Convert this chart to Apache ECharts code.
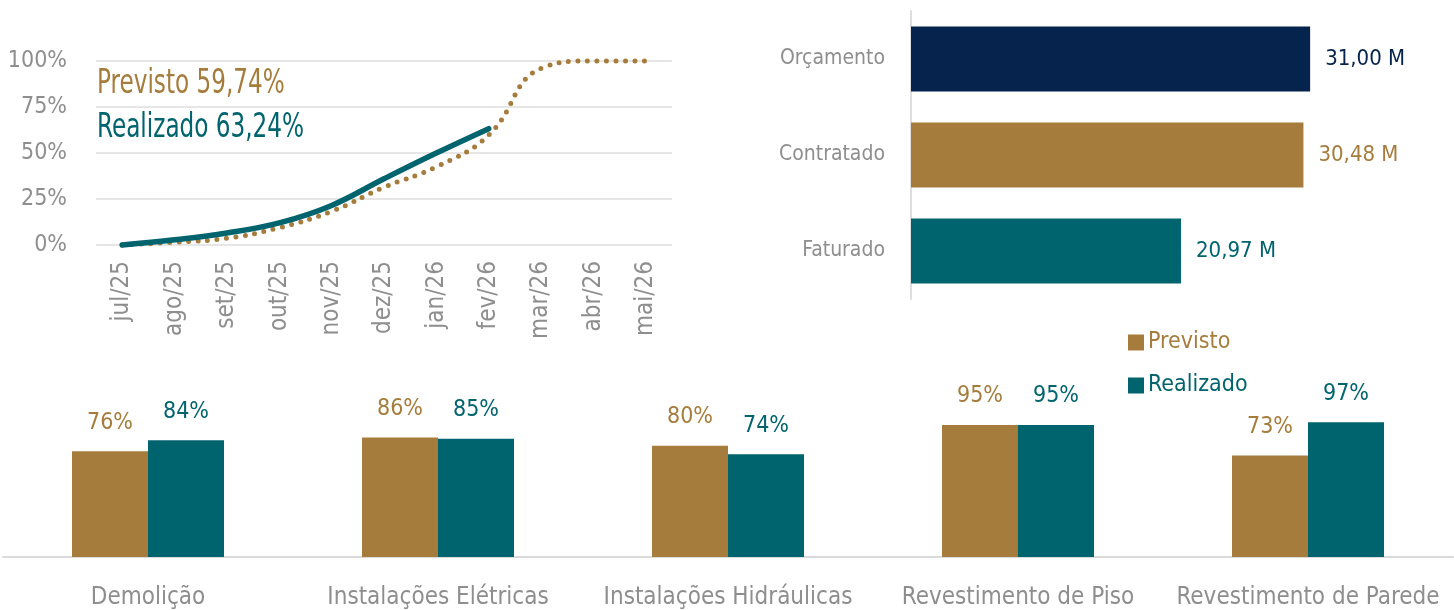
<!DOCTYPE html>
<html>
<head>
<meta charset="utf-8">
<script src="https://cdn.jsdelivr.net/npm/echarts@6/dist/echarts.min.js"></script>
<style>
  html, body { margin: 0; padding: 0; background: #fff; }
  #chart { width: 1454px; height: 610px; }
</style>
</head>
<body>
<div id="chart"></div>
<script>
// curva S
const months = ['jul/25', 'ago/25', 'set/25', 'out/25', 'nov/25', 'dez/25', 'jan/26', 'fev/26', 'mar/26', 'abr/26', 'mai/26'];
const previstoCurve = [0, 1.5, 3.7, 9.4, 18.3, 31.4, 42.5, 59.74, 96, 100, 100];
const realizadoCurve = [0, 2.8, 6.5, 12, 21.5, 36, 50, 63.24];

// financeiro
const finCategories = ['Orçamento', 'Contratado', 'Faturado'];
const finValues = [31.00, 30.48, 20.97];

// avanço por serviço
const services = ['Demolição', 'Instalações Elétricas', 'Instalações Hidráulicas', 'Revestimento de Piso', 'Revestimento de Parede'];
const servPrevisto = [76, 86, 80, 95, 73];
const servRealizado = [84, 85, 74, 95, 97];

const NAVY = '#05234c';
const GOLD = '#a67c3c';
const TEAL = '#00646f';
const GRAY = '#8e8e8e';
const FONT = "'DejaVu Sans Condensed', 'Liberation Sans Narrow', sans-serif";
const finColors = [NAVY, GOLD, TEAL];

let chart = echarts.init(document.getElementById('chart'));

let option = {
    animation: false,
    textStyle: { fontFamily: FONT },
    legend: {
        data: [
            { name: 'Previsto', textStyle: { color: GOLD } },
            { name: 'Realizado', textStyle: { color: TEAL } }
        ],
        orient: 'vertical',
        left: 1128,
        top: 331,
        padding: 0,
        itemWidth: 16,
        itemHeight: 16,
        itemGap: 20,
        icon: 'rect',
        textStyle: { fontFamily: FONT, fontSize: 23, padding: [0, 0, 0, -1] }
    },
    graphic: [
        {
            type: 'text', left: 97, top: 68, scaleX: 0.78,
            style: { text: 'Previsto 59,74%', fill: GOLD, font: '33px ' + FONT }
        },
        {
            type: 'text', left: 97, top: 112, scaleX: 0.78,
            style: { text: 'Realizado 63,24%', fill: TEAL, font: '33px ' + FONT }
        }
    ],
    grid: [
        { left: 96, top: 61, width: 576, height: 184 },
        { left: 911, top: 11, width: 515, height: 288 },
        { left: 3, top: 418, right: 1, height: 140 }
    ],
    xAxis: [
        {
            gridIndex: 0,
            type: 'category',
            data: months,
            boundaryGap: true,
            axisLine: { show: false },
            axisTick: { show: false },
            axisLabel: { rotate: 90, color: GRAY, fontSize: 24, margin: 16, fontFamily: FONT }
        },
        {
            gridIndex: 1,
            type: 'value',
            min: 0,
            max: 40,
            show: false
        },
        {
            gridIndex: 2,
            type: 'category',
            data: services,
            axisLine: { lineStyle: { color: '#dadada', width: 2 } },
            axisTick: { show: false },
            axisLabel: { color: GRAY, fontSize: 24, margin: 29, fontFamily: FONT, interval: 0 }
        }
    ],
    yAxis: [
        {
            gridIndex: 0,
            type: 'value',
            min: 0,
            max: 100,
            interval: 25,
            axisLine: { show: false },
            axisTick: { show: false },
            axisLabel: { color: GRAY, fontSize: 23, margin: 29, fontFamily: FONT, formatter: v => v + '%' },
            splitLine: { lineStyle: { color: '#e6e6e6', width: 2 } }
        },
        {
            gridIndex: 1,
            type: 'category',
            data: finCategories,
            inverse: true,
            axisLine: { lineStyle: { color: '#dedede', width: 2 } },
            axisTick: { show: false },
            axisLabel: { color: GRAY, fontSize: 21, margin: 26, fontFamily: FONT }
        },
        {
            gridIndex: 2,
            type: 'value',
            min: 0,
            max: 100,
            show: false
        }
    ],
    series: [
        {
            name: 'Previsto (curva)',
            type: 'line',
            xAxisIndex: 0,
            yAxisIndex: 0,
            data: previstoCurve,
            smooth: 0.45,
            clip: false,
            showSymbol: false,
            lineStyle: { color: GOLD, width: 5, type: [0, 9.5], cap: 'round' }
        },
        {
            name: 'Realizado (curva)',
            type: 'line',
            xAxisIndex: 0,
            yAxisIndex: 0,
            data: realizadoCurve,
            smooth: 0.4,
            clip: false,
            showSymbol: false,
            lineStyle: { color: TEAL, width: 5.5, cap: 'round' }
        },
        {
            name: 'Financeiro',
            type: 'bar',
            xAxisIndex: 1,
            yAxisIndex: 1,
            barWidth: 65,
            data: finValues.map((v, i) => ({
                value: v,
                itemStyle: { color: finColors[i] },
                label: { color: finColors[i] }
            })),
            label: {
                show: true,
                position: 'right',
                distance: 15,
                fontSize: 22,
                fontFamily: FONT,
                formatter: p => p.value.toFixed(2).replace('.', ',') + ' M'
            }
        },
        {
            name: 'Previsto',
            type: 'bar',
            xAxisIndex: 2,
            yAxisIndex: 2,
            barWidth: 76,
            barGap: 0,
            data: servPrevisto,
            itemStyle: { color: GOLD },
            label: { show: true, position: 'top', distance: 17, color: GOLD, fontSize: 23, fontFamily: FONT, formatter: '{c}%' }
        },
        {
            name: 'Realizado',
            type: 'bar',
            xAxisIndex: 2,
            yAxisIndex: 2,
            barWidth: 76,
            barGap: 0,
            data: servRealizado,
            itemStyle: { color: TEAL },
            label: { show: true, position: 'top', distance: 17, color: TEAL, fontSize: 23, fontFamily: FONT, formatter: '{c}%' }
        }
    ]
};
chart.setOption(option);
</script>
</body>
</html>
